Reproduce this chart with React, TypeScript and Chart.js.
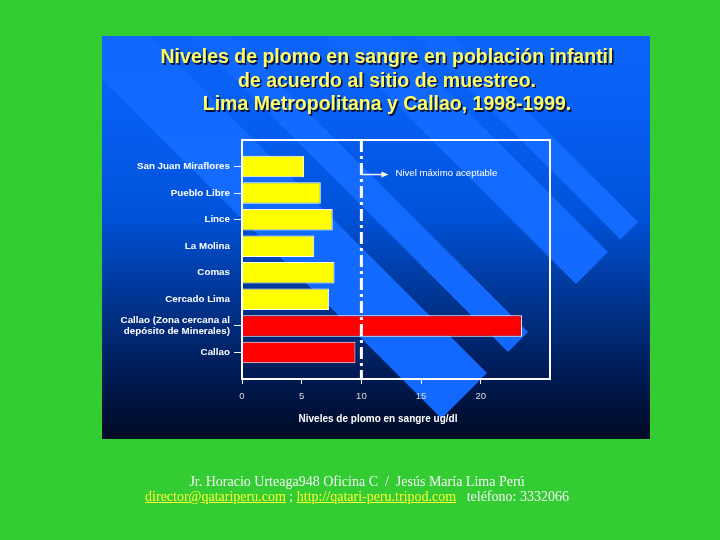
import React, { useEffect, useRef } from "react";
import { Chart, registerables } from "chart.js";

Chart.register(...registerables);

const TITLE_LINES = [
  "Niveles de plomo en sangre en población infantil",
  "de acuerdo al sitio de muestreo.",
  "Lima Metropolitana y Callao, 1998-1999.",
];

const SITES: (string | string[])[] = [
  "San Juan Miraflores",
  "Pueblo Libre",
  "Lince",
  "La Molina",
  "Comas",
  "Cercado Lima",
  ["Callao (Zona cercana al", "depósito de Minerales)"],
  "Callao",
];

const LEAD_LEVELS = [5.2, 6.6, 7.6, 6.05, 7.75, 7.3, 23.45, 9.5];

const SITE_GROUPS = ["Lima", "Lima", "Lima", "Lima", "Lima", "Lima", "Callao", "Callao"];

const X_TICKS = [0, 5, 10, 15, 20];
const X_MAX = 25.8;
const MAX_ACCEPTABLE = 10;

const X_TITLE = "Niveles de plomo en sangre ug/dl";
const ANNOTATION = "Nivel máximo aceptable";
const NO_TICK_MARK = ["La Molina", "Comas", "Cercado Lima"];

const FOOTER_ADDRESS = "Jr. Horacio Urteaga948 Oficina C  /  Jesús María Lima Perú";
const FOOTER_EMAIL = "director@qatariperu.com";
const FOOTER_WEB = "http://qatari-peru.tripod.com";
const FOOTER_PHONE = "   teléfono: 3332066";

const GROUP_COLORS: Record<string, string> = { Lima: "#FFFF00", Callao: "#FF0000" };

const FONT = '"Liberation Sans", Arial, sans-serif';

export default function App() {
  const ref = useRef<HTMLCanvasElement>(null);

  useEffect(() => {
    document.body.style.margin = "0";
    const canvas = ref.current!;
    const labels: (string | string[])[] = ["", ...SITES, ""];
    const values: (number | null)[] = [null, ...LEAD_LEVELS, null];
    const colors = ["#000", ...SITE_GROUPS.map((g) => GROUP_COLORS[g]), "#000"];

    const decor = {
      id: "decor",
      beforeDraw(chart: any) {
        const ctx = chart.ctx as CanvasRenderingContext2D;
        const L = 102, T = 36, R = 650, B = 439;
        ctx.save();
        const g = ctx.createLinearGradient(0, T, 0, B);
        g.addColorStop(0, "#0c64fa");
        g.addColorStop(0.2, "#075ef2");
        g.addColorStop(0.45, "#0052d8");
        g.addColorStop(0.65, "#003592");
        g.addColorStop(0.85, "#001a52");
        g.addColorStop(1, "#000a24");
        ctx.fillStyle = g;
        ctx.fillRect(L, T, R - L, B - T);
        ctx.beginPath();
        ctx.rect(L, T, R - L, B - T);
        ctx.clip();
        const bg = ctx.createLinearGradient(0, T, 0, B);
        bg.addColorStop(0, "#1067fc");
        bg.addColorStop(0.3, "#146bff");
        bg.addColorStop(1, "#1268ff");
        ctx.fillStyle = bg;
        const E = 860, F = -400;
        const bands = [
          [23, 114],
          [156, 196],
          [292, 356],
          [381, 416],
        ];
        for (const [a, b] of bands) {
          ctx.beginPath();
          ctx.moveTo((a + E) / 2, (E - a) / 2);
          ctx.lineTo((b + E) / 2, (E - b) / 2);
          ctx.lineTo((b + F) / 2, (F - b) / 2);
          ctx.lineTo((a + F) / 2, (F - a) / 2);
          ctx.closePath();
          ctx.fill();
        }
        ctx.restore();
      },
      afterDatasetsDraw(chart: any) {
        const ctx = chart.ctx as CanvasRenderingContext2D;
        const { left, right, top, bottom } = chart.chartArea;
        const xs = chart.scales.x;
        const ys = chart.scales.y;
        ctx.save();
        ctx.strokeStyle = "#ffffff";
        ctx.lineWidth = 2;
        ctx.strokeRect(left, top, right - left, bottom - top);
        const x10 = xs.getPixelForValue(MAX_ACCEPTABLE);
        ctx.setLineDash([12, 4, 3, 4]);
        ctx.lineWidth = 3;
        ctx.beginPath();
        ctx.moveTo(x10, top);
        ctx.lineTo(x10, bottom);
        ctx.stroke();
        ctx.setLineDash([]);
        const ay = ys.getPixelForValue(1.3);
        const ax2 = xs.getPixelForValue(MAX_ACCEPTABLE + 2.1);
        ctx.lineWidth = 1.5;
        ctx.beginPath();
        ctx.moveTo(x10, ay);
        ctx.lineTo(ax2 - 4, ay);
        ctx.stroke();
        ctx.fillStyle = "#ffffff";
        ctx.beginPath();
        ctx.moveTo(ax2 + 2, ay);
        ctx.lineTo(ax2 - 5, ay - 3);
        ctx.lineTo(ax2 - 5, ay + 3);
        ctx.closePath();
        ctx.fill();
        ctx.font = `9.6px ${FONT}`;
        ctx.textAlign = "left";
        ctx.textBaseline = "middle";
        ctx.fillText(ANNOTATION, ax2 + 9, ay - 1);
        ctx.restore();
      },
      afterDraw(chart: any) {
        const ctx = chart.ctx as CanvasRenderingContext2D;
        ctx.save();
        ctx.font = `bold 19.5px ${FONT}`;
        ctx.textAlign = "center";
        ctx.textBaseline = "middle";
        ctx.shadowColor = "rgba(0,0,20,0.85)";
        ctx.shadowOffsetX = 1.5;
        ctx.shadowOffsetY = 1.5;
        ctx.shadowBlur = 0;
        ctx.fillStyle = "#FFFF66";
        TITLE_LINES.forEach((t, i) => ctx.fillText(t, 387, 58 + i * 23.5));
        ctx.shadowColor = "transparent";
        ctx.font = `bold 10px ${FONT}`;
        ctx.fillStyle = "#ffffff";
        ctx.fillText(X_TITLE, 378, 419);
        ctx.restore();
      },
    };

    const chart = new Chart(canvas, {
      type: "bar",
      data: {
        labels,
        datasets: [
          {
            data: values as any,
            backgroundColor: colors,
            borderColor: "#ffffff",
            borderWidth: 1,
            barPercentage: 0.9,
            categoryPercentage: 0.9,
          },
        ],
      },
      options: {
        indexAxis: "y",
        responsive: false,
        animation: false,
        devicePixelRatio: 1,
        layout: { padding: { left: 0, top: 140, right: 170, bottom: 121 } },
        plugins: {
          legend: { display: false },
          tooltip: { enabled: false },
        },
        scales: {
          x: {
            type: "linear",
            min: 0,
            max: X_MAX,
            afterBuildTicks: (s: any) => {
              s.ticks = X_TICKS.map((v) => ({ value: v }));
            },
            afterFit: (s: any) => {
              s.height = 40;
            },
            grid: {
              drawOnChartArea: false,
              drawTicks: true,
              tickLength: 5,
              color: "#ffffff",
            },
            border: { display: false },
            ticks: {
              color: "#dddddd",
              font: { size: 9.5, family: FONT },
              padding: 7,
              maxRotation: 0,
            },
          },
          y: {
            type: "category",
            offset: false,
            afterFit: (s: any) => {
              s.width = 242;
            },
            grid: {
              offset: false,
              drawOnChartArea: false,
              drawTicks: true,
              tickLength: 8,
              color: (ctx: any) => {
                const lbl = labels[ctx.index];
                if (!lbl || (typeof lbl === "string" && NO_TICK_MARK.includes(lbl))) return "rgba(0,0,0,0)";
                return "#ffffff";
              },
            },
            border: { display: false },
            ticks: {
              color: "#ffffff",
              font: { size: 9.8, weight: "bold", family: FONT },
              padding: 4,
              autoSkip: false,
            },
          },
        },
      },
      plugins: [decor],
    });
    return () => chart.destroy();
  }, []);

  return (
    <div style={{ position: "relative", width: 720, height: 540, background: "#33CC33", overflow: "hidden" }}>
      <canvas ref={ref} width={720} height={540} style={{ display: "block", width: 720, height: 540 }} />
      <div
        style={{
          position: "absolute",
          left: 0,
          top: 474,
          width: 714,
          textAlign: "center",
          fontFamily: '"Liberation Serif", "Times New Roman", serif',
          fontSize: 14,
          lineHeight: "15px",
          color: "#f6f6f6",
          whiteSpace: "pre",
        }}
      >
        <div>{FOOTER_ADDRESS}</div>
        <div>
          <a href={"mailto:" + FOOTER_EMAIL} style={{ color: "#FFFF33", textDecoration: "underline" }}>
            {FOOTER_EMAIL}
          </a>
          {" ; "}
          <a href={FOOTER_WEB} style={{ color: "#FFFF33", textDecoration: "underline" }}>
            {FOOTER_WEB}
          </a>
          {FOOTER_PHONE}
        </div>
      </div>
    </div>
  );
}
